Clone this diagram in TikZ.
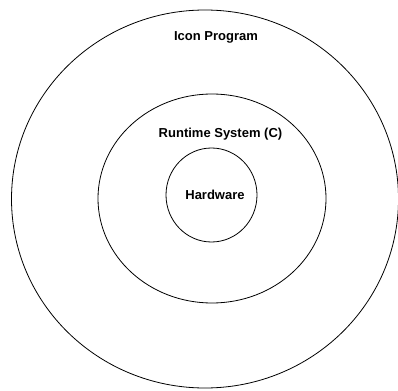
\documentclass[tikz,border=0pt]{standalone}
\usepackage{fontspec}
\setmainfont{Liberation Sans}
\usepackage{tikz}
\usetikzlibrary{shapes.geometric, positioning}
\tikzset{
	layer/.style={draw, ellipse, line width=0.8pt, inner sep=0pt},
	layerlabel/.style={font=\fontsize{13}{15}\selectfont\bfseries, inner sep=0pt},
}

\begin{document}
\begin{tikzpicture}[x=1pt, y=1pt]
	\useasboundingbox (0,0) rectangle (398,-390);

	% Layers, outside in
	\node[layer, minimum width=387pt, minimum height=378pt] (prog) at (205,-199) {};
	\node[layer, minimum width=228pt, minimum height=209pt] (runtime) at (212,-198.5) {};
	\node[layer, minimum width=91pt, minimum height=94pt] (hw) at (211.5,-195) {};

	% Labels
	\node[layerlabel] (proglabel) at (216,-37) {Icon Program};
	\node[layerlabel] (runtimelabel) at (220.5,-134) {Runtime System (C)};
	\node[layerlabel] (hwlabel) at (215,-195) {Hardware};
\end{tikzpicture}
\end{document}
